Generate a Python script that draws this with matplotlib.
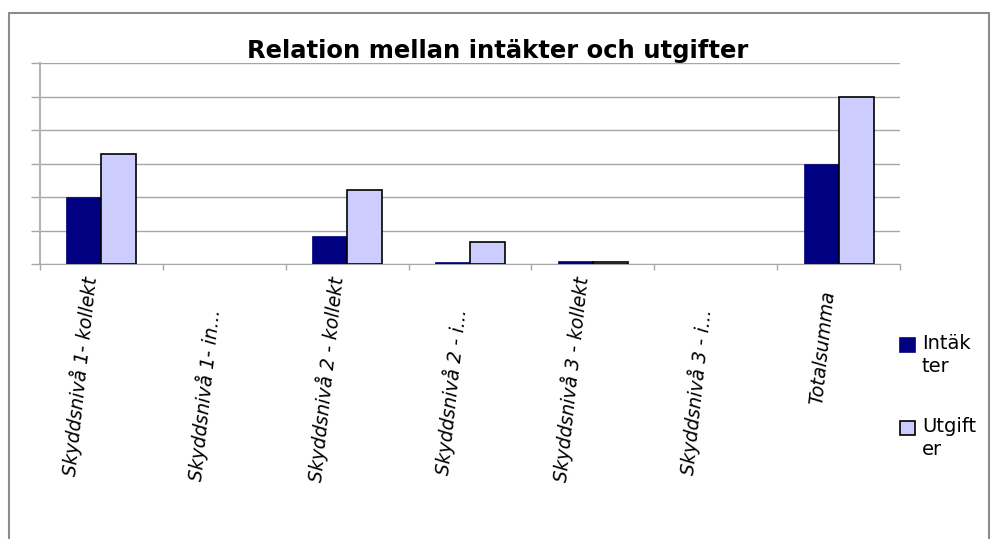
import numpy as np
import matplotlib
matplotlib.use("Agg")
import matplotlib.pyplot as plt
from matplotlib.patches import Rectangle
from matplotlib import transforms

# data (units = gridline steps, axis has no numbers)
categories = ["Skyddsnivå 1- kollekt", "Skyddsnivå 1- in...", "Skyddsnivå 2 - kollekt",
              "Skyddsnivå 2 - i...", "Skyddsnivå 3 - kollekt", "Skyddsnivå 3 - i...", "Totalsumma"]
intakter = [2.0, 0.0, 0.84, 0.06, 0.09, 0.0, 3.0]
utgifter = [3.27, 0.0, 2.22, 0.67, 0.07, 0.0, 5.0]
series_names = ["Intäkter", "Utgifter"]
legend_text = ["Intäk\nter", "Utgift\ner"]
title = "Relation mellan intäkter och utgifter"

W, H = 992, 539
navy = "#000080"
lav = "#ccccff"
grid_c = "#a6a6a6"

fig = plt.figure(figsize=(W / 100, H / 100), dpi=100)

def fx(px):
    return px / W

def fy(py):
    return 1 - py / H

# outer chart frame (bottom edge is cut off in the original)
fig.add_artist(Rectangle((fx(9), -0.1), fx(989) - fx(9), fy(13) + 0.1,
                         transform=fig.transFigure, fill=False, ec="#8c8c8c", lw=1.5))

ax = fig.add_axes([fx(40), fy(264), fx(900) - fx(40), fy(63) - fy(264)])
x = np.arange(len(categories))
bw = 0.285
# zero bars get no outline, otherwise a stray line shows on the axis
lw1 = [0.5 if v > 0 else 0 for v in intakter]
lw2 = [1.2 if v > 0 else 0 for v in utgifter]
ax.bar(x - bw / 2, intakter, bw, color=navy, edgecolor=navy, lw=lw1, zorder=3, label=series_names[0])
ax.bar(x + bw / 2, utgifter, bw, color=lav, edgecolor="black", lw=lw2, zorder=3, label=series_names[1])

ax.set_xlim(-0.5, len(categories) - 0.5)
ax.set_ylim(0, 6)
ax.set_yticks(np.arange(0, 7))
ax.set_yticklabels([])
ax.set_xticks(np.arange(-0.5, len(categories)))
ax.set_xticklabels([])
ax.yaxis.grid(True, color=grid_c, lw=1, zorder=0)
ax.tick_params(axis="y", direction="out", length=6.5, color=grid_c, width=1)
ax.tick_params(axis="x", direction="out", length=4, color=grid_c, width=1)
for s in ["top", "right"]:
    ax.spines[s].set_visible(False)
ax.spines["left"].set_color("#b4b4b4")
ax.spines["left"].set_linewidth(1.5)
ax.spines["bottom"].set_color(grid_c)

# category labels, rotated and italic; Excel puts them at uneven heights
label_top = [278, 310, 278, 310, 278, 310, 292]
trans = transforms.blended_transform_factory(ax.transData, fig.transFigure)
for i, lab in enumerate(categories):
    ax.text(i, fy(label_top[i]), lab, transform=trans, rotation=84, rotation_mode="anchor",
            ha="right", va="bottom", fontsize=13.5, style="italic", clip_on=False)

fig.text(fx(498), fy(58), title, ha="center", va="baseline", fontsize=17.5, fontweight="bold")

# legend drawn by hand so the wrapped labels sit like the original
leg_top = [338, 421]
cols = [(navy, navy), (lav, "black")]
for i in range(2):
    fig.add_artist(Rectangle((fx(900), fy(leg_top[i] + 14)), fx(15), 14 / H,
                             transform=fig.transFigure, fc=cols[i][0], ec=cols[i][1], lw=1.2))
    fig.text(fx(922), fy(leg_top[i] - 4), legend_text[i], ha="left", va="top",
             fontsize=14, linespacing=1.25)

fig.savefig("out.png", dpi=100)
